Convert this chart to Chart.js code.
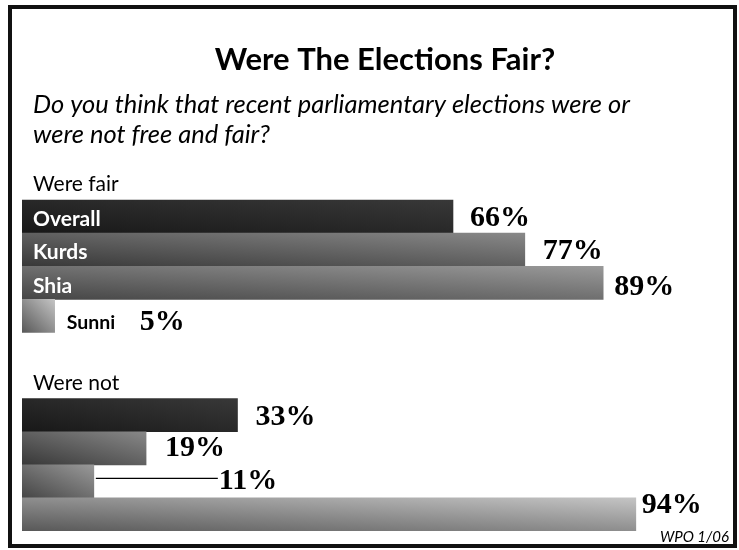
<!DOCTYPE html>
<html>
<head>
<meta charset="utf-8">
<script src="https://cdn.jsdelivr.net/npm/chart.js@4.4.1/dist/chart.umd.min.js"></script>
<style>
  body { margin: 0; background: #fff; }
  #wrap { width: 739px; height: 550px; }
</style>
</head>
<body>
<div id="wrap"><canvas id="fairChart" width="739" height="550"></canvas></div>
<script>
// data
var groups = ["Were fair", "Were not"];
var segments = ["Overall", "Kurds", "Shia", "Sunni"];
var fairValues = [66, 77, 89, 5];
var notValues = [33, 19, 11, 94];

var titleText = "Were The Elections Fair?";
var questionLines = ["Do you think that recent parliamentary elections were or", "were not free and fair?"];
var sourceText = "WPO 1/06";

// one row for each group heading, one blank row between the groups
var rowLabels = [groups[0]].concat(segments, [""], [groups[1]], segments);
var rowValues = [null].concat(fairValues, [null, null], notValues);
var rowSegment = [-1, 0, 1, 2, 3, -1, -1, 0, 1, 2, 3];
var rowGroup = [0, 0, 0, 0, 0, -1, 1, 1, 1, 1, 1];

// shades per segment: bottom-left colour, top-right colour
var shades = [
  ["#181818", "#383838"],
  ["#383838", "#888888"],
  ["#454545", "#999999"],
  ["#585858", "#c4c4c4"]
];
// value label offsets from bar end / bar centre
var labelDx = [0, 17, 18, 11, 85, 0, 0, 18, 19, 125, 6];
var labelDy = [0, 2, 2, 4, 6, 0, 0, 2, 0, 0, -9];

function barFill(ctx) {
  var chart = ctx.chart;
  if (ctx.type !== "data" || !chart.chartArea) return "#555";
  var i = ctx.dataIndex;
  var s = rowSegment[i];
  if (s < 0 || ctx.raw == null) return "#555";
  var xs = chart.scales.x, ys = chart.scales.y;
  var x0 = xs.getPixelForValue(0);
  var w = Math.max(xs.getPixelForValue(ctx.raw) - x0, 1);
  var h = ys.height / rowLabels.length;
  var yB = ys.getPixelForValue(i) + h / 2;
  // t = 0.5 * (dx / w + dy / h) along the bar
  var vx = 0.5 / w, vy = -0.5 / h;
  var len2 = vx * vx + vy * vy;
  var g = chart.ctx.createLinearGradient(x0, yB, x0 + vx / len2, yB + vy / len2);
  g.addColorStop(0, shades[s][0]);
  g.addColorStop(1, shades[s][1]);
  return g;
}

var decor = {
  id: "decor",
  beforeDraw: function (chart) {
    var c = chart.ctx;
    c.save();
    c.fillStyle = "#fff";
    c.fillRect(0, 0, chart.width, chart.height);
    c.restore();
  },
  afterDatasetsDraw: function (chart) {
    var c = chart.ctx;
    var meta = chart.getDatasetMeta(0);
    var ys = chart.scales.y;
    var xLeft = chart.chartArea.left;
    c.save();

    // frame
    c.strokeStyle = "#111";
    c.lineWidth = 4;
    c.strokeRect(10, 7, 725, 539);

    // title and question
    c.fillStyle = "#000";
    c.textBaseline = "alphabetic";
    c.textAlign = "center";
    c.font = "bold 31px Lato";
    c.fillText(titleText, 385, 70);
    c.textAlign = "left";
    c.font = "italic 25.5px Lato";
    c.fillText(questionLines[0], 33, 113);
    c.fillText(questionLines[1], 33, 143);

    // group headings
    c.font = "21px Lato";
    c.textBaseline = "middle";
    rowGroup.forEach(function (g, i) {
      if (rowSegment[i] === -1 && g >= 0) {
        c.fillText(groups[g], 33, ys.getPixelForValue(i) + 1);
      }
    });

    meta.data.forEach(function (bar, i) {
      var v = rowValues[i];
      if (v == null) return;
      var yc = bar.y;
      // segment names (first group only)
      if (rowGroup[i] === 0) {
        c.font = "bold 21px Lato";
        c.textAlign = "left";
        var name = segments[rowSegment[i]];
        var tw = c.measureText(name).width;
        if (tw + 20 < bar.x - xLeft) {
          c.fillStyle = "#fff";
          c.fillText(name, xLeft + 11, yc + 3);
        } else {
          c.fillStyle = "#000";
          c.font = "bold 19.5px Lato";
          c.fillText(name, bar.x + 12, yc + 7);
        }
      }
      // value labels
      var tx = bar.x + labelDx[i];
      var ty = yc + labelDy[i];
      if (labelDx[i] > 60 && rowGroup[i] === 1) {
        c.strokeStyle = "#000";
        c.lineWidth = 1.2;
        c.beginPath();
        c.moveTo(bar.x + 2, ty - 3);
        c.lineTo(tx - 1, ty - 3);
        c.stroke();
      }
      c.fillStyle = "#000";
      c.font = "bold 30px 'Liberation Serif'";
      c.textAlign = "left";
      c.fillText(v + "%", tx, ty);
    });

    // source
    c.font = "italic 15px Lato";
    c.textAlign = "right";
    c.textBaseline = "alphabetic";
    c.fillText(sourceText, 729, 542);
    c.restore();
  }
};

new Chart("fairChart", {
  type: "bar",
  data: {
    labels: rowLabels,
    datasets: [{
      data: rowValues,
      backgroundColor: barFill,
      borderWidth: 0,
      barPercentage: 1,
      categoryPercentage: 1
    }]
  },
  options: {
    indexAxis: "y",
    responsive: false,
    animation: false,
    layout: { padding: { left: 22, right: 64, top: 167, bottom: 19 } },
    scales: {
      x: { display: false, min: 0, max: 100 },
      y: { display: false }
    },
    plugins: {
      legend: { display: false },
      tooltip: { enabled: false }
    }
  },
  plugins: [decor]
});
</script>
</body>
</html>
